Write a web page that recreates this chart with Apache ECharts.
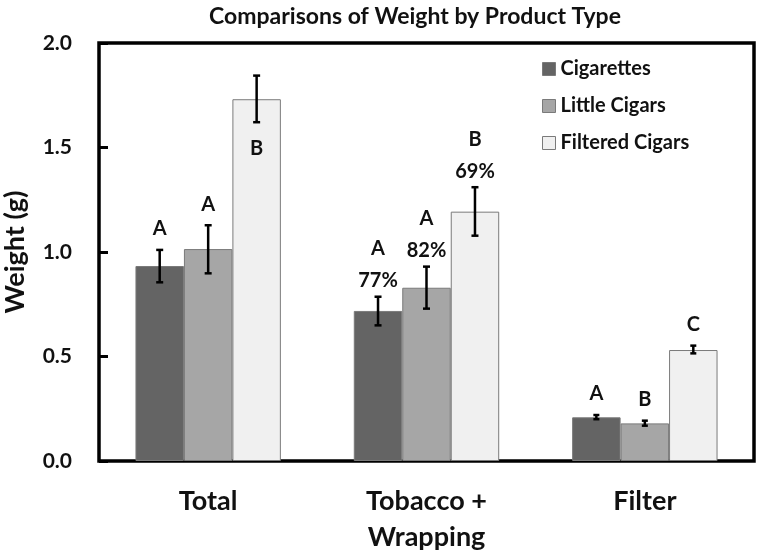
<!DOCTYPE html>
<html>
<head>
<meta charset="utf-8">
<script src="https://cdn.jsdelivr.net/npm/echarts@6/dist/echarts.min.js"></script>
<style>html,body{margin:0;padding:0;background:#fff;}#c{width:760px;height:557px;}</style>
</head>
<body>
<div id="c"></div>
<script>
const categories = ['Total', 'Tobacco +\nWrapping', 'Filter'];
const seriesNames = ['Cigarettes', 'Little Cigars', 'Filtered Cigars'];
const cigMean = [0.933, 0.718, 0.209];
const cigLow = [0.855, 0.649, 0.200];
const cigHigh = [1.010, 0.786, 0.220];
const littleMean = [1.014, 0.829, 0.180];
const littleLow = [0.898, 0.729, 0.169];
const littleHigh = [1.128, 0.930, 0.193];
const filteredMean = [1.731, 1.193, 0.531];
const filteredLow = [1.621, 1.078, 0.515];
const filteredHigh = [1.844, 1.310, 0.552];
const cigLetters = ['A', 'A', 'A'];
const littleLetters = ['A', 'A', 'B'];
const filteredLetters = ['B', 'B', 'C'];
const cigPercents = ['', '77%', ''];
const littlePercents = ['', '82%', ''];
const filteredPercents = ['', '69%', ''];
const yTicks = [0, 0.5, 1.0, 1.5, 2.0];

const colors = ['#646464', '#a6a6a6', '#f0f0f0'];
const FONT = 'Lato, "Open Sans", sans-serif';
const GAP = 0.334;

const means = [cigMean, littleMean, filteredMean];
const lows = [cigLow, littleLow, filteredLow];
const highs = [cigHigh, littleHigh, filteredHigh];
const letters = [cigLetters, littleLetters, filteredLetters];
const percents = [cigPercents, littlePercents, filteredPercents];

function errData(s) {
  return categories.map((c, i) => [i, lows[s][i], highs[s][i], means[s][i]]);
}

function makeRender(s) {
  return function (params, api) {
    const ci = api.value(0);
    const band = api.size([1, 0])[0];
    const bw = band * (1 - GAP) / 3;
    const center = api.coord([ci, 0])[0] + (s - 1) * bw;
    const yLow = api.coord([ci, api.value(1)])[1];
    const yHigh = api.coord([ci, api.value(2)])[1];
    const cap = highs[s][ci] - lows[s][ci] < 0.06 ? 3 : 3.5;
    const lineStyle = { stroke: '#000', lineWidth: 2.5 };
    const children = [
      { type: 'line', shape: { x1: center, y1: yLow, x2: center, y2: yHigh }, style: lineStyle },
      { type: 'line', shape: { x1: center - cap, y1: yLow, x2: center + cap, y2: yLow }, style: lineStyle },
      { type: 'line', shape: { x1: center - cap, y1: yHigh, x2: center + cap, y2: yHigh }, style: lineStyle }
    ];
    const letter = letters[s][ci];
    const pct = percents[s][ci];
    const txt = (t, y) => ({
      type: 'text',
      style: { text: t, x: center, y: y, align: 'center', verticalAlign: 'middle',
               font: 'bold 20px ' + FONT, fill: '#111' }
    });
    const gridTop = api.coord([0, 2.0])[1];
    if (pct) {
      const py = yHigh - 16;
      children.push(txt(pct, py));
      children.push(txt(letter, py - 32));
    } else if (letter) {
      let ly = yHigh - 21;
      if (ly < gridTop + 40) ly = yLow + 26;
      children.push(txt(letter, ly));
    }
    return { type: 'group', children: children };
  };
}

const barSeries = seriesNames.map((n, s) => ({
  name: n,
  type: 'bar',
  data: means[s],
  barGap: 0,
  barCategoryGap: (GAP * 100) + '%',
  itemStyle: { color: colors[s], borderColor: '#7a7a7a', borderWidth: 1 },
  emphasis: { disabled: true },
  z: 2
}));

const errSeries = seriesNames.map((n, s) => ({
  type: 'custom',
  data: errData(s),
  renderItem: makeRender(s),
  encode: { x: 0, y: [1, 2] },
  z: 5,
  silent: true
}));

const chart = echarts.init(document.getElementById('c'), null, { renderer: 'canvas' });
chart.setOption({
  animation: false,
  backgroundColor: '#fff',
  title: {
    text: 'Comparisons of Weight by Product Type',
    left: 410, top: 0, textAlign: 'center',
    textStyle: { fontFamily: FONT, fontWeight: 'bold', fontSize: 23, color: '#111' }
  },
  legend: {
    data: seriesNames,
    orient: 'vertical',
    left: 537, top: 54,
    itemWidth: 13, itemHeight: 13, itemGap: 17,
    icon: 'rect',
    itemStyle: { borderColor: '#7a7a7a', borderWidth: 1 },
    textStyle: { fontFamily: FONT, fontWeight: 'bold', fontSize: 20, color: '#111', lineHeight: 20 }
  },
  grid: { left: 99, right: 6, top: 43, bottom: 96, containLabel: false, outerBoundsMode: 'none',
          show: true, borderColor: '#000', borderWidth: 3.5, backgroundColor: 'transparent' },
  xAxis: {
    type: 'category',
    data: categories,
    axisLine: { show: false },
    axisTick: { show: false },
    axisLabel: { margin: 22, fontFamily: FONT, fontWeight: 'bold', fontSize: 27, color: '#111', lineHeight: 36 }
  },
  yAxis: {
    type: 'value',
    min: 0, max: 2.0, interval: 0.5,
    name: 'Weight (g)',
    nameLocation: 'middle',
    nameGap: 70,
    nameTextStyle: { fontFamily: FONT, fontWeight: 'bold', fontSize: 27, color: '#111' },
    axisLine: { show: false },
    axisTick: { show: true, inside: true, length: 9, lineStyle: { color: '#000', width: 3 } },
    splitLine: { show: false },
    axisLabel: {
      margin: 27, fontFamily: FONT, fontWeight: 'bold', fontSize: 21, color: '#111',
      formatter: v => yTicks.indexOf(v) >= 0 ? v.toFixed(1) : ''
    }
  },
  series: barSeries.concat(errSeries)
});
</script>
</body>
</html>
